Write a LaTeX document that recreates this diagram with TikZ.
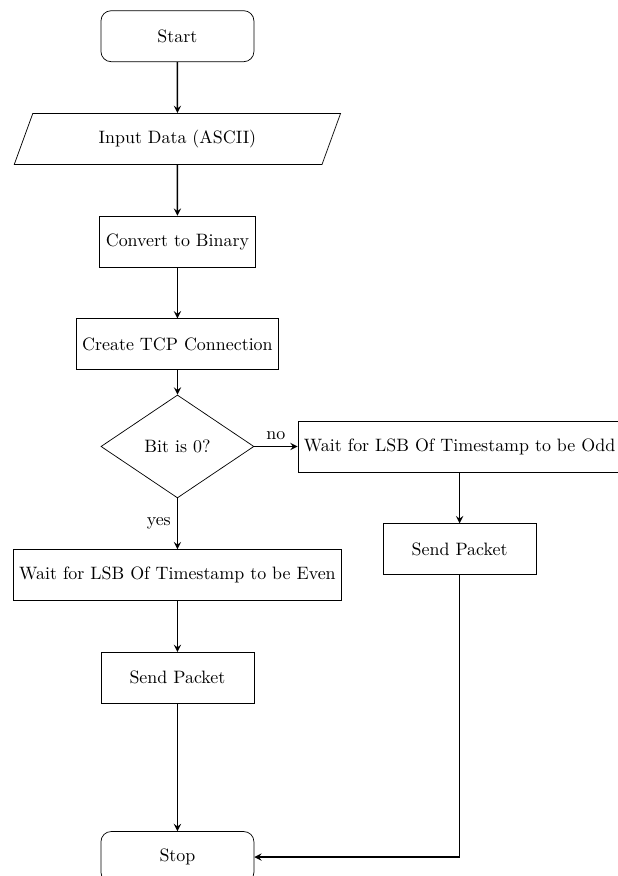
\documentclass[tikz,border=0pt]{standalone}
\usepackage{amsmath,amssymb}
\usepackage{tikz}
\usetikzlibrary{shapes.geometric,arrows,positioning}

\tikzset{
  startstop/.style={rectangle,rounded corners=2mm,minimum width=3cm,minimum height=1cm,text centered,draw=black},
  io/.style={trapezium,trapezium left angle=70,trapezium right angle=110,trapezium stretches=true,minimum width=6.4cm,minimum height=1cm,text centered,draw=black},
  process/.style={rectangle,minimum width=3cm,minimum height=1cm,text centered,draw=black},
  decision/.style={diamond,minimum width=3cm,minimum height=2cm,text centered,draw=black},
  arrow/.style={thick,->,>=stealth}
}

\begin{document}
\begin{tikzpicture}
\useasboundingbox (-3.48,0.71) rectangle (8.64,-16.47);
\node (start) [startstop] {Start};
\node (in1) [io,below=1cm of start] {Input Data (ASCII)};
\node (pro1) [process,below=1cm of in1] {Convert to Binary};
\node (pro2) [process,below=1cm of pro1] {Create TCP Connection};
\node (dec1) [decision,below=0.48cm of pro2] {Bit is 0?};
\node (pro3a) [process,below=1cm of dec1] {Wait for LSB Of Timestamp to be Even};
\node (pro3b) [process,right=0.85cm of dec1] {Wait for LSB Of Timestamp to be Odd};
\node (pro4a) [process,below=1cm of pro3a] {Send Packet};
\node (pro4b) [process,below=1cm of pro3b] {Send Packet};
\node (stop) [startstop,below=2.5cm of pro4a] {Stop};

\draw [arrow] (start) -- (in1);
\draw [arrow] (in1) -- (pro1);
\draw [arrow] (pro1) -- (pro2);
\draw [arrow] (pro2) -- (dec1);
\draw [arrow] (dec1) -- node[anchor=east] {yes} (pro3a);
\draw [arrow] (dec1) -- node[anchor=south] {no} (pro3b);
\draw [arrow] (pro3a) -- (pro4a);
\draw [arrow] (pro3b) -- (pro4b);
\draw [arrow] (pro4a) -- (stop);
\draw [arrow] (pro4b) |- (stop);
\end{tikzpicture}
\end{document}
